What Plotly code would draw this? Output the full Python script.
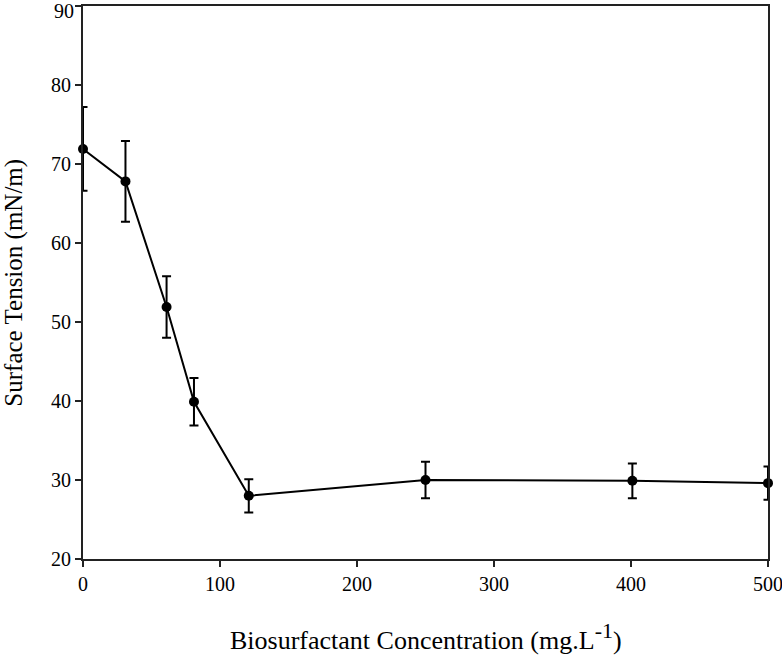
import plotly.graph_objects as go

concentration = [0, 31, 61, 81, 121, 250, 401, 500]
surface_tension = [71.9, 67.8, 51.9, 39.9, 28.0, 30.0, 29.9, 29.6]
error = [5.3, 5.1, 3.9, 3.0, 2.1, 2.3, 2.2, 2.1]

x_ticks = [0, 100, 200, 300, 400, 500]
y_ticks = [20, 30, 40, 50, 60, 70, 80, 90]
y_tick_labels = ["20", "30", "40", "50", "60", "70", "80", ""]
top_label = "90"

x_title = "Biosurfactant Concentration (mg.L<sup><span style='font-size:22px'>-1</span></sup>)"
y_title = "Surface Tension (mN/m)"

font_family = "Liberation Serif, Times New Roman, serif"

fig = go.Figure()
fig.add_trace(go.Scatter(
    x=concentration, y=surface_tension,
    mode="lines+markers",
    line=dict(color="black", width=2),
    marker=dict(color="black", size=10),
    error_y=dict(type="data", array=error, visible=True, color="black", thickness=2, width=4.5),
    cliponaxis=False,
    showlegend=False,
    hoverinfo="skip",
))

axis_common = dict(
    showline=True, linecolor="#222", linewidth=2, mirror=True,
    ticks="outside", ticklen=6, tickwidth=1.5, tickcolor="#222",
    showgrid=False, zeroline=False, automargin=False,
    ticklabeloverflow="allow",
    tickfont=dict(family=font_family, size=20, color="black"),
)

fig.update_xaxes(range=[0, 500], tickvals=x_ticks, **axis_common)
fig.update_yaxes(range=[20, 90], tickvals=y_ticks, ticktext=y_tick_labels, **axis_common)

# top tick label, nudged down so it stays inside the page (as in the reference)
fig.add_annotation(text=top_label, xref="paper", yref="y", x=0, y=y_ticks[-1],
                   showarrow=False, xanchor="right", yanchor="top", xshift=-7, yshift=8,
                   font=dict(family=font_family, size=20, color="black"))

fig.add_annotation(text=x_title, xref="paper", yref="paper", x=0.5, y=-0.141,
                   showarrow=False, xanchor="center", yanchor="middle",
                   font=dict(family=font_family, size=26, color="black"))
fig.add_annotation(text=y_title, xref="paper", yref="paper", x=-0.102, y=0.5,
                   showarrow=False, xanchor="center", yanchor="middle", textangle=-90,
                   font=dict(family=font_family, size=25, color="black"))

fig.update_layout(
    width=782, height=660,
    margin=dict(l=83, r=14, t=6, b=101),
    plot_bgcolor="white", paper_bgcolor="white",
    font=dict(family=font_family, color="black"),
)

fig.write_html("out.html", config={"displayModeBar": False},
               post_script="document.body.style.margin='0';")
